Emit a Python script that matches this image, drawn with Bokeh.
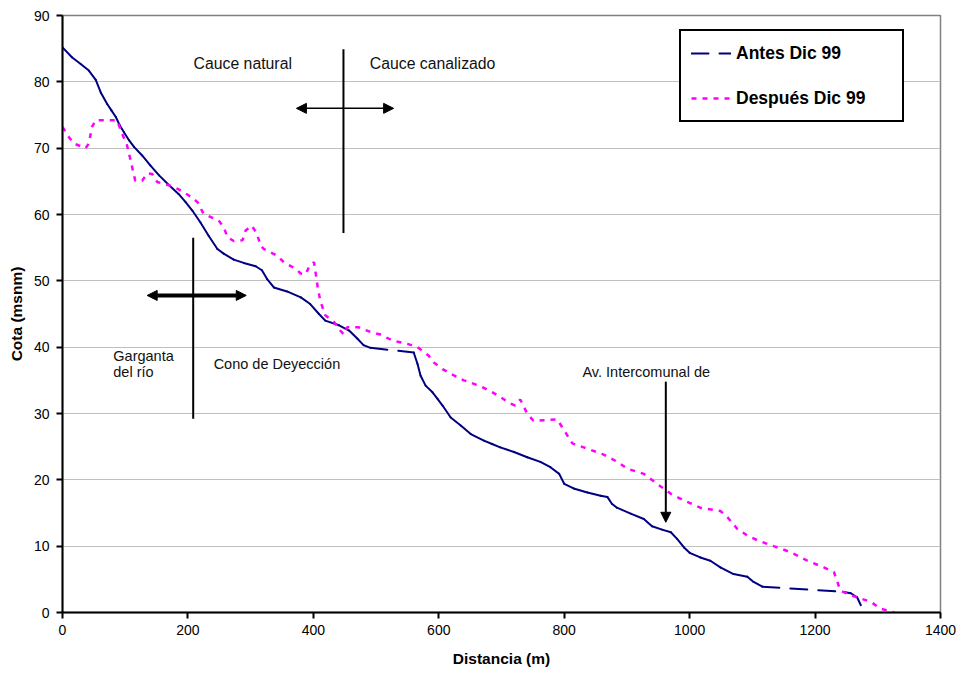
from bokeh.plotting import figure
from bokeh.models import (Range1d, FixedTicker, Legend, LegendItem, Arrow,
                          NormalHead, ColumnDataSource)
from bokeh.core.properties import value
from bokeh.embed import file_html
from bokeh.resources import INLINE

# ---- data ----
antes_x = [0, 15, 29, 42, 53, 61, 71, 78, 85, 91,
           98, 106, 114, 127, 140, 154, 170, 185, 196, 207,
           220, 233, 247, 257, 273, 289, 308, 318, 326, 337,
           358, 380, 395, 409, 419, 441, 457, 470, 480, 491,
           560, 566, 571, 579, 590, 598, 606, 619, 635, 651,
           672, 685, 698, 720, 741, 762, 778, 792, 800, 815,
           837, 858, 869, 876, 884, 906, 927, 940, 956, 970,
           980, 991, 1000, 1017, 1033, 1049, 1070, 1092, 1102, 1116,
           1246, 1257, 1267, 1273]
antes_y = [85.2, 83.7, 82.7, 81.7, 80.3, 78.4, 76.7, 75.7, 74.7, 73.5,
           72.4, 71.2, 70.2, 68.9, 67.4, 65.9, 64.4, 63.1, 61.9, 60.6,
           58.8, 56.8, 54.8, 54.1, 53.2, 52.7, 52.2, 51.6, 50.3, 49.0,
           48.4, 47.5, 46.5, 45.0, 44.0, 43.3, 42.5, 41.3, 40.3, 39.9,
           39.2, 37.5, 35.7, 34.2, 33.2, 32.2, 31.2, 29.4, 28.2, 26.9,
           25.9, 25.4, 24.9, 24.2, 23.4, 22.7, 21.9, 20.9, 19.4, 18.7,
           18.1, 17.6, 17.4, 16.4, 15.8, 14.9, 14.1, 13.0, 12.5, 12.1,
           11.1, 9.8, 9.0, 8.3, 7.8, 6.8, 5.8, 5.4, 4.6, 3.9,
           3.1, 2.9, 2.3, 1.1]

despues_x = [0, 10, 18, 37, 42, 47, 53, 87, 95, 103,
             108, 116, 127, 135, 143, 151, 170, 183, 201, 215,
             225, 249, 257, 263, 273, 287, 292, 302, 310, 316,
             321, 342, 353, 372, 380, 388, 393, 401, 403, 407,
             411, 419, 433, 443, 449, 454, 472, 491, 507, 526,
             550, 566, 584, 592, 606, 619, 640, 667, 693, 712,
             722, 730, 741, 751, 789, 797, 813, 831, 863, 887,
             900, 927, 948, 970, 991, 1017, 1049, 1060, 1076, 1092,
             1108, 1134, 1161, 1188, 1214, 1230, 1235, 1240, 1257, 1273,
             1289, 1304, 1326]
despues_y = [73.2, 71.7, 70.7, 70.0, 70.7, 73.2, 74.2, 74.2, 72.2, 70.4,
             68.4, 65.1, 65.1, 66.2, 66.1, 64.9, 64.4, 63.9, 62.9, 61.9,
             60.1, 59.1, 58.1, 56.6, 56.0, 56.1, 57.6, 58.3, 57.1, 55.3,
             54.8, 53.8, 52.8, 51.8, 51.1, 51.0, 52.1, 52.8, 51.6, 49.0,
             47.0, 44.8, 43.8, 42.5, 41.9, 43.0, 43.0, 42.3, 41.9, 41.0,
             40.5, 40.0, 38.7, 37.7, 36.7, 36.0, 35.0, 34.1, 32.8, 31.6,
             31.2, 32.1, 30.0, 28.9, 29.1, 27.9, 25.5, 24.9, 23.8, 22.6,
             21.7, 20.9, 19.4, 17.9, 16.9, 15.8, 15.3, 14.4, 12.6, 11.6,
             10.9, 10.0, 9.1, 7.8, 6.8, 6.1, 4.8, 3.3, 2.6, 2.1,
             1.6, 0.6, 0.0]

series_labels = ["Antes Dic 99", "Después Dic 99"]
x_ticks = [0, 200, 400, 600, 800, 1000, 1200, 1400]
y_ticks = [0, 10, 20, 30, 40, 50, 60, 70, 80, 90]

top_text = ["Cauce  natural", "Cauce canalizado"]
top_x = [209, 490]
top_y = [82.8, 82.8]
ann_text = ["Garganta", "del río", "Cono de Deyección", "Av. Intercomunal de"]
ann_x = [81, 81, 241, 829]
ann_y = [38.7, 36.2, 37.5, 36.3]

FONT = "Liberation Sans"

p = figure(width=962, height=673, output_backend="svg", toolbar_location=None,
           x_range=Range1d(0, 1400), y_range=Range1d(0, 90),
           min_border_left=62, min_border_right=22,
           min_border_top=15, min_border_bottom=61)
p.background_fill_color = "white"
p.border_fill_color = "white"
p.outline_line_color = "#808080"
p.outline_line_width = 1.5

p.xgrid.visible = False
p.ygrid.grid_line_color = "#c0c0c0"
p.ygrid.grid_line_width = 1

p.xaxis.ticker = FixedTicker(ticks=x_ticks)
p.yaxis.ticker = FixedTicker(ticks=y_ticks)
for ax in (p.xaxis, p.yaxis):
    ax.axis_line_color = "black"
    ax.axis_line_width = 2
    ax.major_tick_line_color = "black"
    ax.major_tick_line_width = 2
    ax.major_tick_out = 6
    ax.major_tick_in = 0
    ax.minor_tick_line_color = None
    ax.major_label_text_font = FONT
    ax.major_label_text_font_size = "14px"
    ax.major_label_text_color = "black"
    ax.axis_label_text_font = FONT
    ax.axis_label_text_font_size = "15.5px"
    ax.axis_label_text_font_style = "bold"
    ax.axis_label_text_color = "black"
p.xaxis.axis_label = "Distancia (m)"
p.yaxis.axis_label = "Cota (msnm)"
p.xaxis.major_label_standoff = 6
p.xaxis.axis_label_standoff = 12
p.yaxis.major_label_standoff = 7
p.yaxis.axis_label_standoff = 6

# Antes: per-segment dashes (Excel-like restart of dash pattern on each segment)
src_b = ColumnDataSource(dict(x0=antes_x[:-1], y0=antes_y[:-1],
                              x1=antes_x[1:], y1=antes_y[1:]))
r_b = p.segment("x0", "y0", "x1", "y1", source=src_b, line_color="#000080",
                line_width=2, line_dash="17 11", line_cap="round")
r_m = p.line(despues_x, despues_y, line_color="#FF00FF", line_width=2.5,
             line_dash="5 6")

# annotations
p.segment(x0=[448, 208.4], y0=[84.9, 56.5], x1=[448, 208.4], y1=[57.2, 29.2],
          line_color="black", line_width=2)


def head():
    return NormalHead(size=10, fill_color="black", line_color="black")


p.add_layout(Arrow(start=head(), end=head(), x_start=373, y_start=76,
                   x_end=528, y_end=76, line_width=1.5, line_color="black"))
p.add_layout(Arrow(start=head(), end=head(), x_start=135, y_start=47.8,
                   x_end=293, y_end=47.8, line_width=4, line_color="black"))
p.add_layout(Arrow(end=head(), x_start=962, y_start=34.8,
                   x_end=962, y_end=13.6, line_width=2, line_color="black"))

p.text(x=top_x, y=top_y, text=top_text, text_font=value(FONT),
       text_font_size="15.8px", text_color="#111111",
       text_align="left", text_baseline="middle")
p.text(x=ann_x, y=ann_y, text=ann_text, text_font=value(FONT),
       text_font_size="14.5px", text_color="#111111",
       text_align="left", text_baseline="middle")

legend = Legend(items=[LegendItem(label=series_labels[0], renderers=[r_b]),
                       LegendItem(label=series_labels[1], renderers=[r_m])],
                location=(617, 490), orientation="vertical",
                padding=10, spacing=21, margin=0,
                glyph_width=40, glyph_height=24, label_height=24,
                label_width=156, label_standoff=5,
                label_text_font=FONT, label_text_font_style="bold",
                label_text_font_size="17.5px", label_text_color="black",
                border_line_color="black", border_line_width=2,
                border_line_alpha=1,
                background_fill_color="white", background_fill_alpha=1)
p.add_layout(legend)

open("out.html", "w").write(file_html(p, INLINE))
